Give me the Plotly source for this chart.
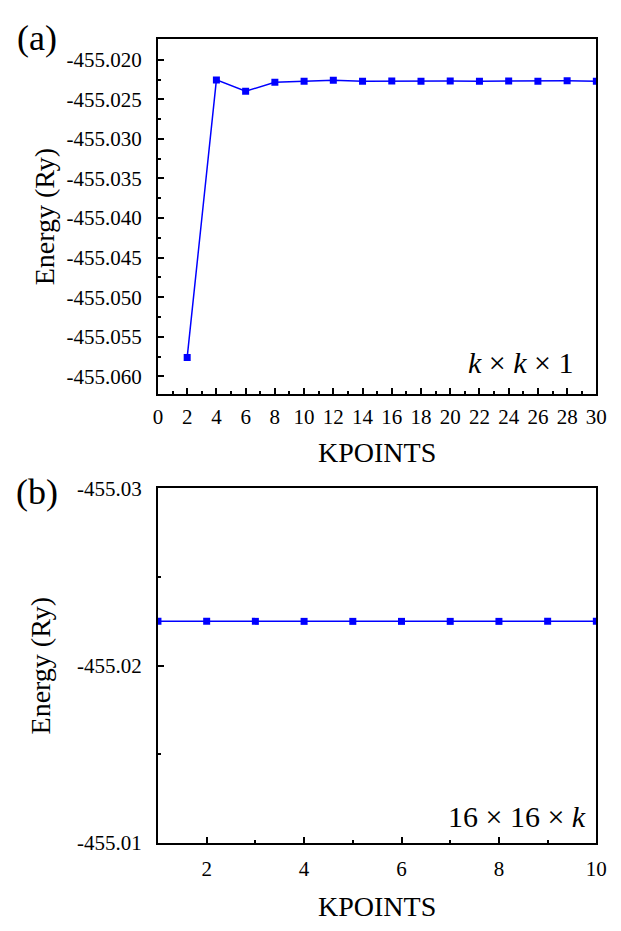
import plotly.graph_objects as go

# Panel (a): k x k x 1
kpts_a = [2, 4, 6, 8, 10, 12, 14, 16, 18, 20, 22, 24, 26, 28, 30]
energy_a = [-455.05761, -455.02254, -455.02398, -455.02283, -455.02270, -455.02258,
            -455.02270, -455.02267, -455.02270, -455.02267, -455.02270, -455.02267,
            -455.02270, -455.02264, -455.02270]
ytick_vals_a = [-455.020, -455.025, -455.030, -455.035, -455.040,
                -455.045, -455.050, -455.055, -455.060]
ytick_text_a = ["-455.020", "-455.025", "-455.030", "-455.035", "-455.040",
                "-455.045", "-455.050", "-455.055", "-455.060"]

# Panel (b): 16 x 16 x k
kpts_b = [1, 2, 3, 4, 5, 6, 7, 8, 9, 10]
energy_b = [-455.02250] * 10
ytick_vals_b = [-455.03, -455.02, -455.01]
ytick_text_b = ["-455.03", "-455.02", "-455.01"]

W, H = 621, 931
FONT = "Liberation Serif, Times New Roman, serif"
BLUE = "#0000FF"

def px_x(p):
    return p / W

def px_y(p):
    return 1 - p / H

fig = go.Figure()
fig.add_trace(go.Scatter(x=kpts_a, y=energy_a, mode="lines+markers",
                         line=dict(color=BLUE, width=1.5),
                         marker=dict(symbol="square", size=7, color=BLUE),
                         xaxis="x", yaxis="y", showlegend=False))
fig.add_trace(go.Scatter(x=kpts_b, y=energy_b, mode="lines+markers",
                         line=dict(color=BLUE, width=1.5),
                         marker=dict(symbol="square", size=7, color=BLUE),
                         xaxis="x2", yaxis="y2", showlegend=False))

axis_common = dict(showline=True, linecolor="black", linewidth=1.8, mirror=True,
                   ticks="inside", ticklen=6, tickwidth=1.5, tickcolor="black",
                   showgrid=False, zeroline=False,
                   tickfont=dict(family=FONT, size=21, color="black"))
title_font = dict(family=FONT, size=28, color="black")

xdom = [px_x(157), px_x(607)]

fig.update_layout(
    width=W, height=H,
    margin=dict(l=0, r=0, t=0, b=0),
    paper_bgcolor="white", plot_bgcolor="white",
    xaxis=dict(domain=xdom, anchor="y", range=[0, 30], dtick=2, tick0=0,
               ticklabelstandoff=3,
               minor=dict(ticks="inside", ticklen=3, dtick=1, tickcolor="black"),
               title=dict(text="KPOINTS", font=title_font, standoff=14),
               **axis_common),
    yaxis=dict(domain=[px_y(392), px_y(28)], anchor="x", range=[-455.06222, -455.01741],
               tickmode="array", tickvals=ytick_vals_a, ticktext=ytick_text_a,
               ticklabelstandoff=10,
               minor=dict(ticks="inside", ticklen=3, dtick=0.0025, tickcolor="black"),
               title=dict(text="Energy (Ry)", font=title_font, standoff=4),
               **axis_common),
    xaxis2=dict(domain=xdom, anchor="y2", range=[1, 10], dtick=2, tick0=0,
                ticklabelstandoff=6,
                minor=dict(ticks="inside", ticklen=3, dtick=1, tickcolor="black"),
                title=dict(text="KPOINTS", font=title_font, standoff=16),
                **axis_common),
    yaxis2=dict(domain=[px_y(853), px_y(489)], anchor="x2", range=[-455.01, -455.03],
                tickmode="array", tickvals=ytick_vals_b, ticktext=ytick_text_b,
                ticklabelstandoff=10,
                minor=dict(ticks="inside", ticklen=3, dtick=0.005, tickcolor="black"),
                title=dict(text="Energy (Ry)", font=title_font, standoff=18),
                **axis_common),
)

fig.add_annotation(text="(a)", x=px_x(33), y=px_y(27), xref="paper", yref="paper",
                   xanchor="center", yanchor="middle",
                   showarrow=False, font=dict(family=FONT, size=36, color="black"))
fig.add_annotation(text="(b)", x=px_x(33), y=px_y(493), xref="paper", yref="paper",
                   xanchor="center", yanchor="middle",
                   showarrow=False, font=dict(family=FONT, size=36, color="black"))
fig.add_annotation(text="<i>k</i> × <i>k</i> × 1", x=px_x(586), y=px_y(360),
                   xref="paper", yref="paper", xanchor="right", yanchor="middle",
                   showarrow=False, font=dict(family=FONT, size=30, color="black"))
fig.add_annotation(text="16 × 16 × <i>k</i>", x=px_x(598), y=px_y(826),
                   xref="paper", yref="paper", xanchor="right", yanchor="middle",
                   showarrow=False, font=dict(family=FONT, size=30, color="black"))

fig.write_html("out.html")
